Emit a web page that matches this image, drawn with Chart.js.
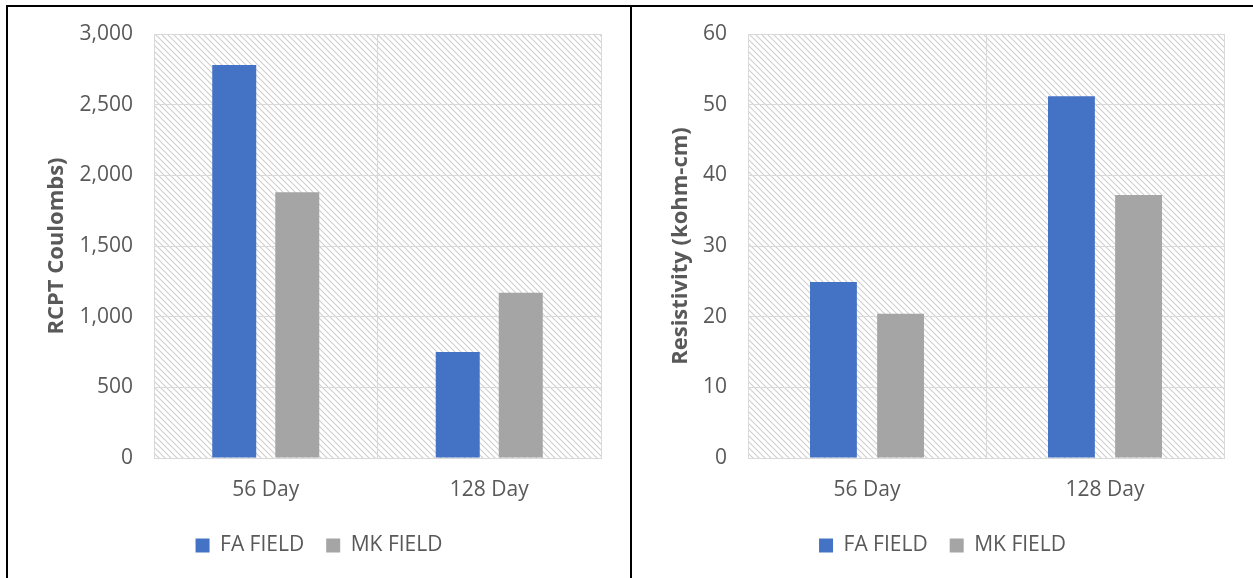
<!DOCTYPE html>
<html>
<head>
<meta charset="utf-8">
<script src="https://cdn.jsdelivr.net/npm/chart.js@4/dist/chart.umd.min.js"></script>
<style>
  body { margin: 0; background: #fff; width: 1253px; height: 578px; overflow: hidden; position: relative; }
  .line { position: absolute; background: #000; }
  canvas { position: absolute; }
</style>
</head>
<body>
<div class="line" style="left:6px;top:5px;width:1247px;height:2px"></div>
<div class="line" style="left:6px;top:5px;width:2px;height:573px"></div>
<div class="line" style="left:630px;top:5px;width:2px;height:573px"></div>
<canvas id="rcpt" width="622" height="571" style="left:8px;top:7px"></canvas>
<canvas id="resist" width="621" height="571" style="left:632px;top:7px"></canvas>
<script>
const categories = ["56 Day", "128 Day"];
const seriesNames = ["FA FIELD", "MK FIELD"];
const rcptFA = [2780, 750];
const rcptMK = [1880, 1170];
const resistFA = [24.9, 51.2];
const resistMK = [20.4, 37.2];

const blue = "#4472C4";
const gray = "#A5A5A5";
const textColor = "#595959";
const gridColor = "#d9d9d9";
const fontFamily = "'Open Sans', 'Liberation Sans', sans-serif";

// diagonal hatch for the plot area
function makeHatch() {
    const c = document.createElement("canvas");
    c.width = 6;
    c.height = 6;
    const g = c.getContext("2d");
    g.fillStyle = "#fff";
    g.fillRect(0, 0, 6, 6);
    g.strokeStyle = "#d0d0d0";
    g.lineWidth = 1.2;
    g.beginPath();
    g.moveTo(-1, -1); g.lineTo(7, 7);
    g.moveTo(-7, -1); g.lineTo(1, 7);
    g.moveTo(5, -1); g.lineTo(13, 7);
    g.stroke();
    return g.createPattern(c, "repeat");
}

const hatchPlugin = {
    id: "hatch",
    beforeDraw(chart) {
        const a = chart.chartArea;
        const ctx = chart.ctx;
        ctx.save();
        ctx.fillStyle = makeHatch();
        ctx.fillRect(a.left, a.top, a.right - a.left, a.bottom - a.top);
        ctx.restore();
    }
};

function makeChart(id, fa, mk, yTitle, yMax, yStep, yWidth) {
    new Chart(document.getElementById(id), {
        type: "bar",
        data: {
            labels: categories,
            datasets: [
                { label: seriesNames[0], data: fa, backgroundColor: blue },
                { label: seriesNames[1], data: mk, backgroundColor: gray }
            ]
        },
        options: {
            responsive: false,
            animation: false,
            categoryPercentage: 0.564,
            barPercentage: 0.698,
            layout: { padding: { top: 27, right: 29, bottom: 12, left: 29 } },
            scales: {
                x: {
                    grid: { color: gridColor, offset: true, drawTicks: false },
                    border: { color: gridColor },
                    ticks: { color: textColor, padding: 19, font: { family: fontFamily, size: 21 } },
                    afterFit(axis) { axis.height = 55; }
                },
                y: {
                    min: 0,
                    max: yMax,
                    grid: { color: gridColor, drawTicks: false },
                    border: { display: false },
                    ticks: {
                        stepSize: yStep,
                        color: textColor,
                        padding: 21,
                        font: { family: fontFamily, size: 21 },
                        callback: v => v.toLocaleString("en-US")
                    },
                    title: {
                        display: true,
                        text: yTitle,
                        color: textColor,
                        padding: { top: 7, bottom: 0 },
                        font: { family: fontFamily, size: 22, weight: "bold" }
                    },
                    afterFit(axis) {
                        axis.width = yWidth;
                        axis.paddingTop = 12;
                        axis.paddingBottom = 12;
                    }
                }
            },
            plugins: {
                legend: {
                    position: "bottom",
                    labels: {
                        color: textColor,
                        boxWidth: 14,
                        boxHeight: 14,
                        padding: 22,
                        font: { family: fontFamily, size: 21 }
                    }
                },
                tooltip: { enabled: false }
            }
        },
        plugins: [hatchPlugin]
    });
}

makeChart("rcpt", rcptFA, rcptMK, "RCPT Coulombs)", 3000, 500, 117);
makeChart("resist", resistFA, resistMK, "Resistivity (kohm-cm)", 60, 10, 87);
</script>
</body>
</html>
